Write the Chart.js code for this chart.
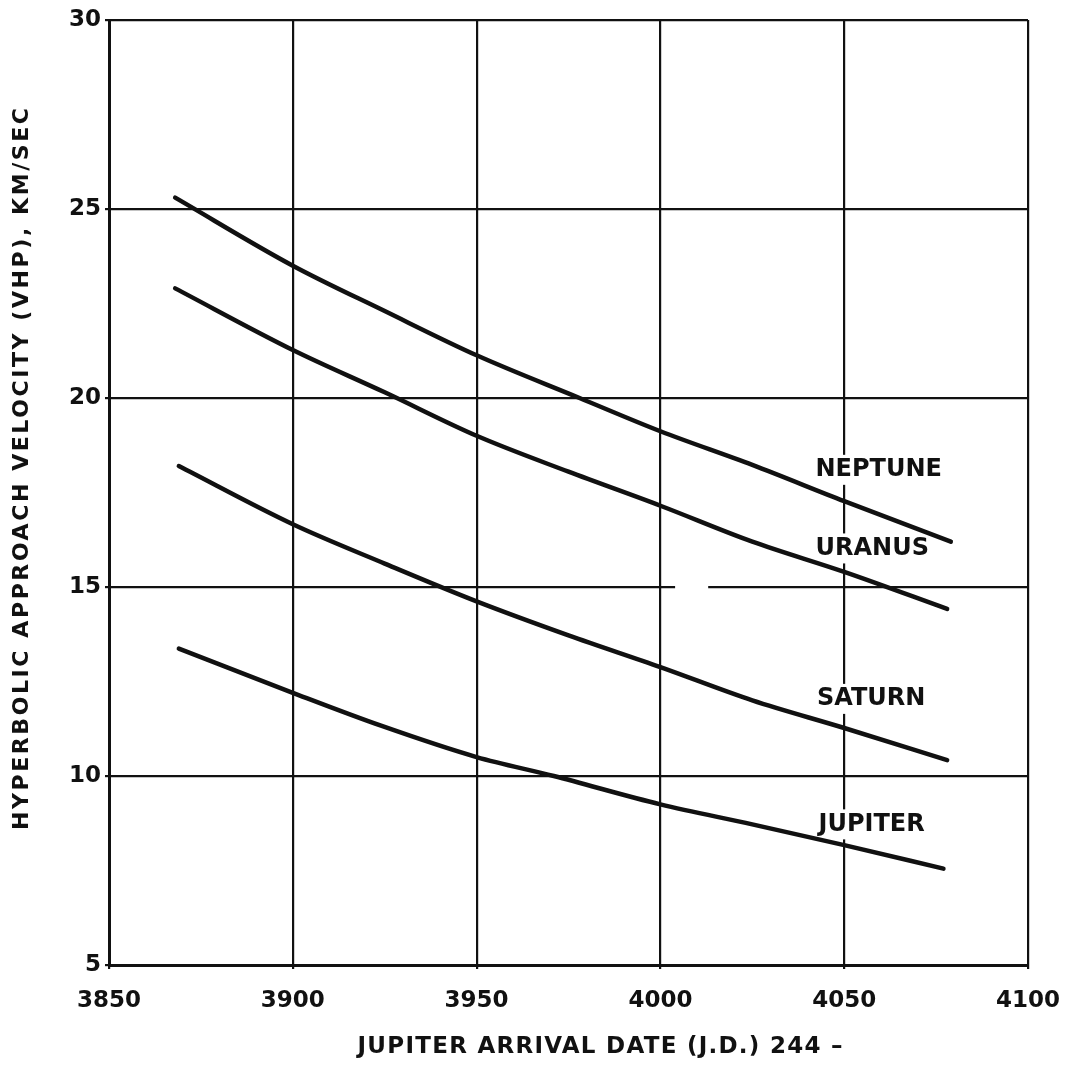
<!DOCTYPE html>
<html>
<head>
<meta charset="utf-8">
<script src="https://cdn.jsdelivr.net/npm/chart.js@4"></script>
<style>
  body { margin: 0; background: #fff; }
  canvas { display: block; }
</style>
</head>
<body>
<canvas id="chart" width="1067" height="1068"></canvas>
<script>
// Jupiter arrival date (J.D. 244-) and approach velocity
const neptuneX = [3868, 3900, 3925, 3950, 3978, 4000, 4025, 4050, 4079];
const neptuneY = [25.3, 23.5, 22.3, 21.13, 20.0, 19.12, 18.23, 17.27, 16.2];

const uranusX = [3868, 3900, 3925, 3950, 3975, 4000, 4025, 4050, 4078];
const uranusY = [22.9, 21.27, 20.15, 19.0, 18.05, 17.15, 16.2, 15.4, 14.42];

const saturnX = [3869, 3900, 3925, 3950, 3975, 4000, 4025, 4050, 4078];
const saturnY = [18.2, 16.66, 15.62, 14.62, 13.72, 12.88, 12.0, 11.27, 10.42];

const jupiterX = [3869, 3900, 3924, 3950, 3971, 4000, 4025, 4050, 4077];
const jupiterY = [13.37, 12.2, 11.33, 10.5, 10.0, 9.25, 8.72, 8.17, 7.55];

// curve labels, placed in data units
const seriesNames = ['NEPTUNE', 'URANUS', 'SATURN', 'JUPITER'];
const labelX = [4042.2, 4042.2, 4042.6, 4043];
const labelY = [18.1, 16.02, 12.04, 8.72];

const xTitle = 'JUPITER ARRIVAL DATE (J.D.) 244 \u2013';
const yTitle = 'HYPERBOLIC APPROACH VELOCITY (VHP), KM/SEC';

const ink = '#111';
const fontFamily = '"DejaVu Sans", sans-serif';

const toPoints = (xs, ys) => xs.map((x, i) => ({ x: x, y: ys[i] }));

// draws text stretched to a given width using letter spacing
function drawSpaced(ctx, text, cx, cy, width, angle) {
  ctx.save();
  ctx.translate(cx, cy);
  ctx.rotate(angle);
  ctx.letterSpacing = '0px';
  const natural = ctx.measureText(text).width;
  const ls = (width - natural) / (text.length - 1);
  ctx.letterSpacing = ls + 'px';
  ctx.textAlign = 'left';
  ctx.textBaseline = 'middle';
  ctx.fillText(text, -width / 2, 0);
  ctx.restore();
}

const annotate = {
  id: 'annotate',
  beforeDatasetsDraw(chart) {
    const { ctx, scales: { x, y } } = chart;
    ctx.save();
    // small break in the 15 grid line
    const g0 = x.getPixelForValue(4004);
    const g1 = x.getPixelForValue(4013);
    const gy = y.getPixelForValue(15);
    ctx.fillStyle = '#fff';
    ctx.fillRect(g0, gy - 3, g1 - g0, 6);

    ctx.font = 'bold 24px ' + fontFamily;
    ctx.textBaseline = 'middle';
    seriesNames.forEach((name, i) => {
      const px = x.getPixelForValue(labelX[i]);
      const py = y.getPixelForValue(labelY[i]);
      const w = ctx.measureText(name).width;
      ctx.fillStyle = '#fff';
      ctx.fillRect(px - 4, py - 15, w + 8, 30);
      ctx.fillStyle = ink;
      ctx.fillText(name, px, py);
    });
    ctx.restore();
  },
  afterDraw(chart) {
    const ctx = chart.ctx;
    ctx.save();
    ctx.fillStyle = ink;
    ctx.font = 'bold 23px ' + fontFamily;
    drawSpaced(ctx, xTitle, 600, 1047, 485, 0);
    ctx.font = 'bold 22px ' + fontFamily;
    drawSpaced(ctx, yTitle, 22, 469, 722, -Math.PI / 2);
    ctx.restore();
  }
};

const lineStyle = {
  showLine: true,
  borderColor: ink,
  borderWidth: 4.5,
  borderCapStyle: 'round',
  pointRadius: 0,
  cubicInterpolationMode: 'monotone',
  fill: false
};

new Chart(document.getElementById('chart').getContext('2d'), {
  type: 'scatter',
  data: {
    datasets: [
      { label: 'Neptune', data: toPoints(neptuneX, neptuneY), ...lineStyle },
      { label: 'Uranus', data: toPoints(uranusX, uranusY), ...lineStyle },
      { label: 'Saturn', data: toPoints(saturnX, saturnY), ...lineStyle },
      { label: 'Jupiter', data: toPoints(jupiterX, jupiterY), ...lineStyle }
    ]
  },
  options: {
    responsive: false,
    animation: false,
    layout: { padding: { left: 0, top: 20, right: 39, bottom: 0 } },
    plugins: {
      legend: { display: false },
      tooltip: { enabled: false }
    },
    scales: {
      x: {
        type: 'linear',
        min: 3850,
        max: 4100,
        afterFit: (scale) => {
          scale.height = 103;
          scale.paddingLeft = 0;
          scale.paddingRight = 0;
        },
        border: { display: true, color: ink, width: 3 },
        grid: { color: ink, lineWidth: 2.2, tickLength: 4 },
        ticks: {
          stepSize: 50,
          padding: 18,
          color: ink,
          font: { family: fontFamily, size: 23, weight: 'bold' },
          callback: (v) => String(v)
        }
      },
      y: {
        type: 'linear',
        min: 5,
        max: 30,
        afterFit: (scale) => { scale.width = 109; },
        border: { display: true, color: ink, width: 3 },
        grid: { color: ink, lineWidth: 2.2, tickLength: 4 },
        ticks: {
          stepSize: 5,
          padding: 4,
          color: ink,
          font: { family: fontFamily, size: 23, weight: 'bold' },
          callback: (v) => String(v)
        }
      }
    }
  },
  plugins: [annotate]
});
</script>
</body>
</html>
